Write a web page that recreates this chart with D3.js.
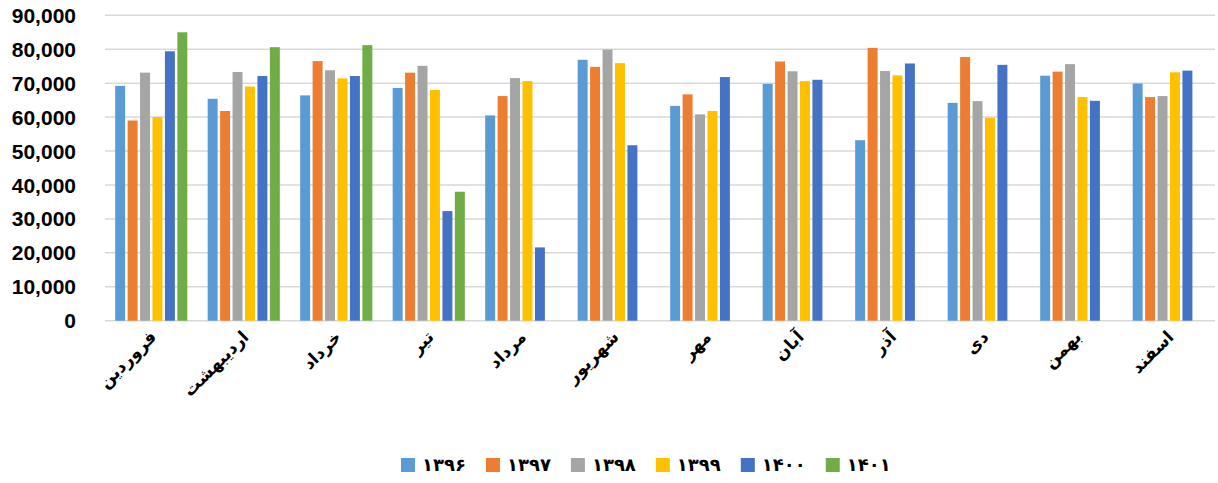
<!DOCTYPE html>
<html>
<head>
<meta charset="utf-8">
<script src="https://cdn.jsdelivr.net/npm/d3@7"></script>
<style>
  body { margin: 0; background: #fff; }
  svg { display: block; }
</style>
</head>
<body>
<div id="chart"></div>
<script>
// months (categories), years (series)
var months = ["فروردین", "اردیبهشت", "خرداد", "تیر", "مرداد", "شهریور", "مهر", "آبان", "آذر", "دی", "بهمن", "اسفند"];
var years = ["۱۳۹۶", "۱۳۹۷", "۱۳۹۸", "۱۳۹۹", "۱۴۰۰", "۱۴۰۱"];
var colors = ["#5B9BD5", "#ED7D31", "#A5A5A5", "#FFC000", "#4472C4", "#70AD47"];

// values per year, one per month (null = no bar)
var y1396 = [69200, 65400, 66400, 68600, 60500, 76900, 63300, 69800, 53200, 64200, 72200, 69900];
var y1397 = [59000, 61800, 76500, 73100, 66200, 74800, 66700, 76400, 80400, 77700, 73400, 65900];
var y1398 = [73100, 73300, 73800, 75100, 71500, 79900, 60800, 73500, 73600, 64700, 75600, 66200];
var y1399 = [60000, 69000, 71400, 68000, 70600, 75900, 61800, 70600, 72300, 59800, 65900, 73200];
var y1400 = [79400, 72100, 72100, 32300, 21600, 51700, 71800, 71000, 75800, 75400, 64800, 73700];
var y1401 = [85000, 80600, 81200, 38000, null, null, null, null, null, null, null, null];
var series = [y1396, y1397, y1398, y1399, y1400, y1401];

var yTicks = d3.range(0, 90001, 10000);

var svgWidth = 1218, svgHeight = 483;

var svg = d3.select("#chart")
  .append("svg")
  .attr("width", svgWidth)
  .attr("height", svgHeight);

var x0 = d3.scaleBand()
  .domain(months)
  .range([105, 1215])
  .paddingInner(0.22)
  .paddingOuter(0.11);

var x1 = d3.scaleBand()
  .domain(years)
  .range([0, x0.bandwidth()])
  .paddingInner(0.2);

var y = d3.scaleLinear()
  .domain([0, 90000])
  .range([320.7, 15.3]);

// gridlines
svg.append("g")
  .selectAll("line")
  .data(yTicks)
  .enter()
  .append("line")
  .attr("x1", 105)
  .attr("x2", 1215)
  .attr("y1", d => y(d))
  .attr("y2", d => y(d))
  .attr("stroke", "#D9D9D9")
  .attr("stroke-width", 1.5);

// y labels
var fmt = d3.format(",");
svg.append("g")
  .selectAll("text")
  .data(yTicks)
  .enter()
  .append("text")
  .attr("x", 76)
  .attr("y", d => y(d))
  .attr("dy", "0.36em")
  .attr("text-anchor", "end")
  .attr("font-family", "'Liberation Sans', Arial, sans-serif")
  .attr("font-weight", "bold")
  .attr("font-size", 21)
  .attr("fill", "#000")
  .text(d => fmt(d));

// bars
var groups = svg.append("g")
  .selectAll("g")
  .data(months)
  .enter()
  .append("g")
  .attr("transform", d => "translate(" + x0(d) + ",0)");

groups.selectAll("rect")
  .data(function(m, i) {
    return years.map(function(yr, k) { return { year: yr, value: series[k][i], color: colors[k] }; })
      .filter(function(d) { return d.value != null; });
  })
  .enter()
  .append("rect")
  .attr("x", d => x1(d.year))
  .attr("width", x1.bandwidth())
  .attr("y", d => y(d.value))
  .attr("height", d => y(0) - y(d.value))
  .attr("fill", d => d.color);

// x labels, rotated
svg.append("g")
  .selectAll("text")
  .data(months)
  .enter()
  .append("text")
  .attr("transform", d => "translate(" + (x0(d) + x0.bandwidth() / 2 + 6) + ",338) rotate(-45)")
  .attr("text-anchor", "end")
  .attr("font-family", "'DejaVu Sans', sans-serif")
  .attr("font-weight", "bold")
  .attr("font-size", 17)
  .attr("fill", "#000")
  .text(d => d);

// legend
var legend = svg.append("g");
var lx = 401;
years.forEach(function(yr, k) {
  legend.append("rect")
    .attr("x", lx)
    .attr("y", 458)
    .attr("width", 14)
    .attr("height", 14)
    .attr("fill", colors[k]);
  var t = legend.append("text")
    .attr("x", lx + 21)
    .attr("y", 465)
    .attr("dy", "0.35em")
    .attr("font-family", "'DejaVu Sans', sans-serif")
    .attr("font-weight", "bold")
    .attr("font-size", 18)
    .attr("fill", "#000")
    .text(yr);
  lx += 21 + t.node().getComputedTextLength() + 20;
});
</script>
</body>
</html>
